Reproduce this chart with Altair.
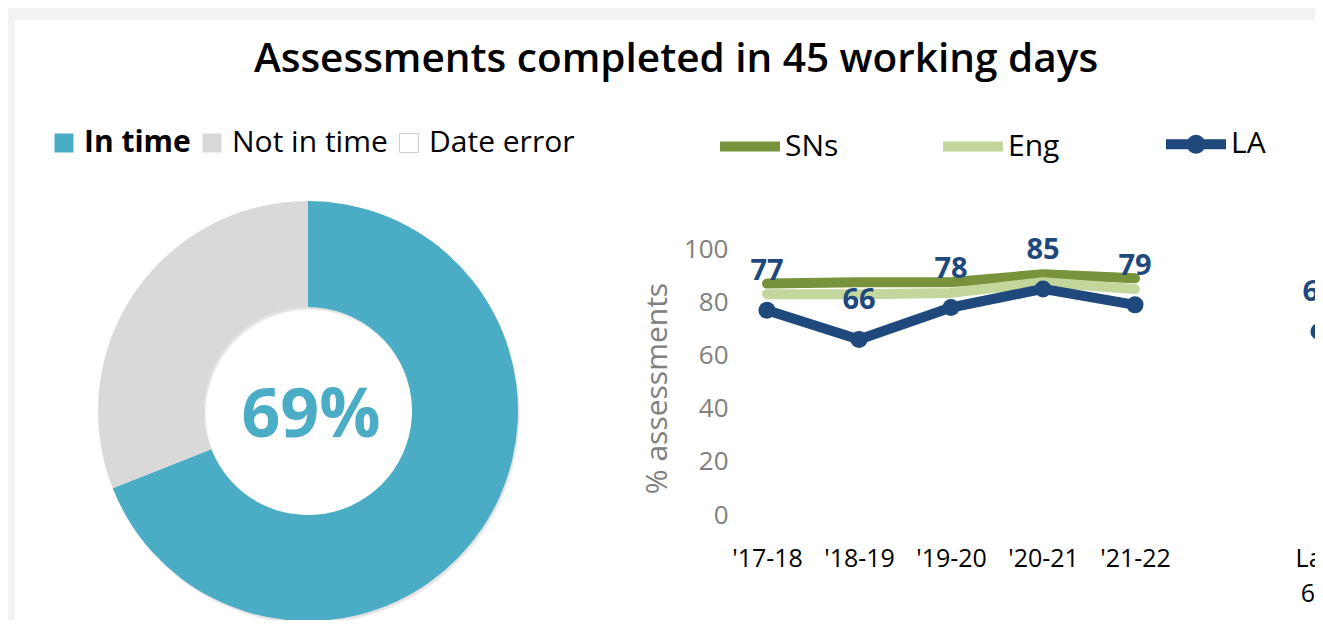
import altair as alt
import pandas as pd

# ---------------- data ----------------
title_text = "Assessments completed in 45 working days"

status = ["In time", "Not in time", "Date error"]
status_pct = [69, 31, 0]
status_colors = ["#4bacc6", "#d9d9d9", "#ffffff"]

periods = ["'17-18", "'18-19", "'19-20", "'20-21", "'21-22"]
spacer = " "
last_period = "Last 6m"
series = ["SNs", "Eng", "LA"]
sns_vals = [87, 87.5, 87.5, 90.5, 89]
eng_vals = [83, 83, 83.5, 87.5, 85]
la_vals = [77, 66, 78, 85, 79]
la_last = 69
series_colors = ["#77933c", "#c3d69b", "#1f497d"]
series_widths = [10, 10, 8]

y_title = "% assessments"
y_ticks = [0, 20, 40, 60, 80, 100]

# ---------------- layout ----------------
W, H = 1307, 612
FONT = "Open Sans"
GREY = "#808080"
CX, CY = 300, 403
R_OUT, R_IN = 210, 104

donut_df = pd.DataFrame({"status": status, "pct": status_pct,
                         "order": list(range(len(status)))})
line_df = pd.DataFrame({
    "period": periods * len(series),
    "series": [s for s in series for _ in periods],
    "value": sns_vals + eng_vals + la_vals,
})
la_df = pd.DataFrame({"period": periods + [last_period],
                      "value": la_vals + [la_last]})
one = pd.DataFrame({"k": [0]})

panel = alt.Chart(one).mark_rect(color="white").encode(
    x=alt.value(7), x2=alt.value(W), y=alt.value(12), y2=alt.value(H))

title = alt.Chart(one).mark_text(
    font=FONT, fontSize=40.5, fontWeight=600, align="center",
    baseline="alphabetic", color="black"
).encode(x=alt.value(668), y=alt.value(64), text=alt.value(title_text))

theta = alt.Theta("pct:Q", stack=True)
order = alt.Order("order:Q")

shadow1 = alt.Chart(donut_df).mark_arc(
    radius=R_OUT, innerRadius=R_IN, color="black", opacity=0.06
).encode(theta=theta, order=order, detail="status:N",
         x=alt.value(CX + 2), y=alt.value(CY + 3))
shadow2 = alt.Chart(donut_df).mark_arc(
    radius=R_OUT, innerRadius=R_IN, color="black", opacity=0.05
).encode(theta=theta, order=order, detail="status:N",
         x=alt.value(CX + 1), y=alt.value(CY + 2))

donut = alt.Chart(donut_df).mark_arc(radius=R_OUT, innerRadius=R_IN).encode(
    theta=theta, order=order,
    color=alt.Color(
        "status:N", sort=status,
        scale=alt.Scale(domain=status, range=status_colors),
        legend=alt.Legend(
            title=None, orient="none", legendX=41, legendY=120,
            direction="horizontal", symbolType="square", symbolSize=361,
            symbolStrokeWidth=1,
            symbolStrokeColor=alt.ExprRef(
                f"datum.label == '{status[2]}' ? '#cfcfcf' : 'transparent'"),
            symbolOpacity=1,
            labelFont=FONT, labelFontSize=30, labelColor="black",
            labelFontWeight=alt.ExprRef(
                f"datum.label == '{status[0]}' ? 'bold' : 'normal'"),
            labelOffset=5, columnPadding=6,
        ),
    ),
    x=alt.value(CX), y=alt.value(CY),
)

center = alt.Chart(donut_df).transform_filter(
    alt.datum.status == status[0]
).transform_calculate(lbl="datum.pct + '%'").mark_text(
    font=FONT, fontSize=68, fontWeight="bold", color=status_colors[0],
    align="center", baseline="middle"
).encode(text="lbl:N", x=alt.value(CX + 3), y=alt.value(CY + 6))

xenc = alt.X(
    "period:N",
    scale=alt.Scale(type="point", domain=periods + [spacer, last_period],
                    range=[759, 1311], padding=0),
    axis=alt.Axis(orient="bottom", offset=-74, domain=False, ticks=False,
                  tickSize=0, grid=False, labelPadding=0, labelAngle=0,
                  labelFont=FONT, labelFontSize=25, labelColor="black",
                  labelOverlap=False, labelExpr="split(datum.label, ' ')",
                  labelLineHeight=35, title=None, zindex=2),
)
yenc = alt.Y(
    "value:Q",
    scale=alt.Scale(domain=[0, 100], range=[507, 241]),
    axis=alt.Axis(values=y_ticks, orient="left", offset=-720, domain=False,
                  ticks=False, tickSize=0, grid=False, labelPadding=0,
                  labelFont=FONT, labelFontSize=26, labelColor=GREY,
                  title=y_title, titleFont=FONT, titleFontSize=30,
                  titleFontWeight="normal", titleColor=GREY, titleAngle=270,
                  titleX=-71, titleY=380, titleAlign="center",
                  titleBaseline="middle", zindex=2),
)

la_path = ("M-1,0H1M0.15,0A0.15,0.15,0,1,1,-0.15,0"
           "A0.15,0.15,0,1,1,0.15,0")
lines = alt.Chart(line_df).mark_line(strokeCap="round", strokeJoin="round").encode(
    x=xenc, y=yenc,
    color=alt.Color(
        "series:N", sort=series,
        scale=alt.Scale(domain=series, range=series_colors),
        legend=alt.Legend(
            title=None, orient="none", legendX=707, legendY=101,
            direction="horizontal", columns=3, gridAlign="all",
            symbolType=alt.ExprRef(
                f"datum.label == '{series[2]}' ? '{la_path}' : 'stroke'"),
            symbolSize=3600, symbolStrokeWidth=10,
            labelFont=FONT, labelFontSize=30, labelColor="black",
            labelOffset=0, columnPadding=84,
        ),
    ),
    strokeWidth=alt.StrokeWidth("series:N",
                                scale=alt.Scale(domain=series, range=series_widths),
                                legend=None),
)

pts = alt.Chart(la_df).mark_circle(size=290, opacity=1, color=series_colors[2]).encode(
    x=xenc, y=yenc)
labels = alt.Chart(la_df).mark_text(
    dy=-39, font=FONT, fontSize=29, fontWeight="bold", color=series_colors[2]
).encode(x=xenc, y=yenc, text=alt.Text("value:Q", format="d"))

chart = alt.layer(
    panel, title, shadow1, shadow2, donut, center, lines, pts, labels
).resolve_scale(color="independent").properties(
    width=W, height=H, padding=0, autosize=alt.AutoSizeParams(type="none")
).configure(background="#f2f2f2").configure_view(stroke=None)

chart.save("out.html", embed_options={"renderer": "svg", "actions": False})
